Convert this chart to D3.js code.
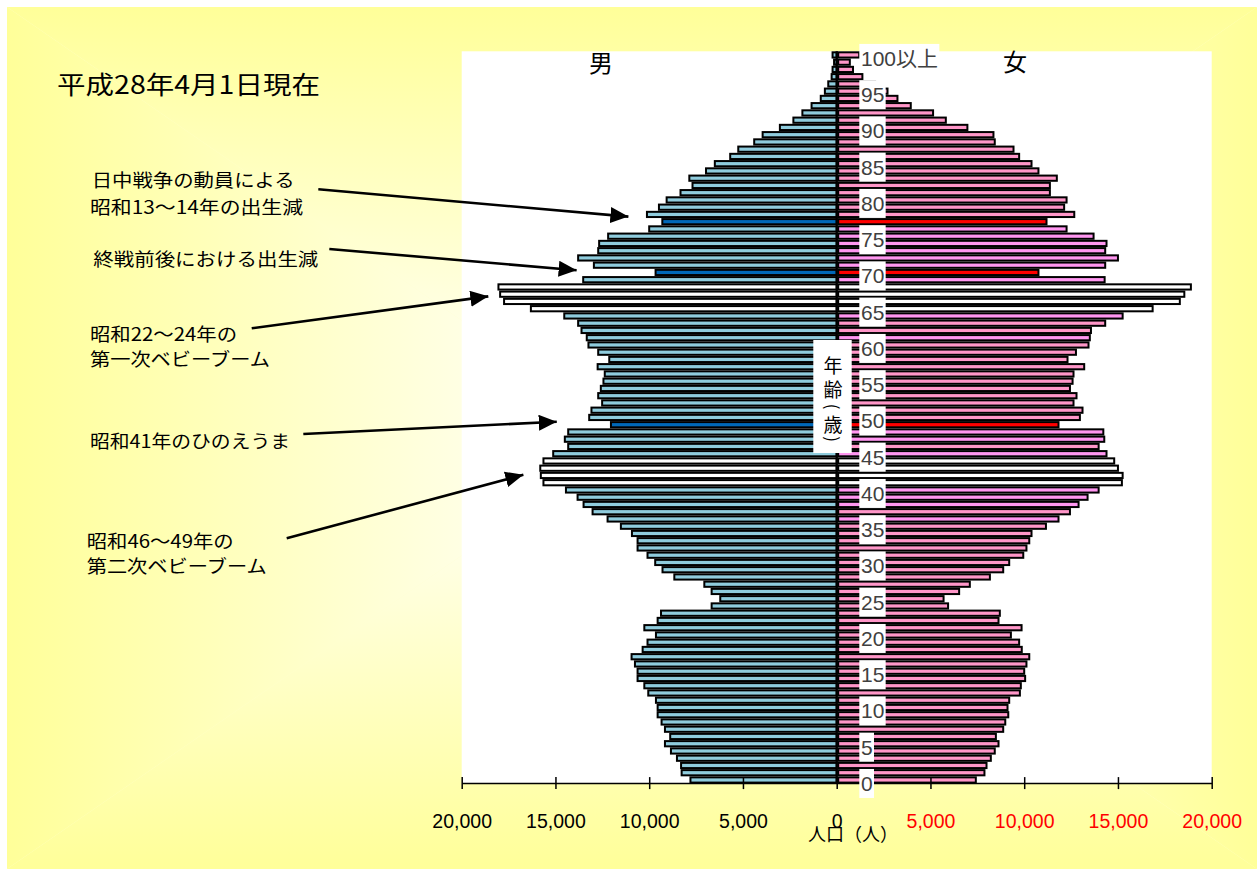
<!DOCTYPE html>
<html><head><meta charset="utf-8">
<script src="https://cdn.jsdelivr.net/npm/d3@7"></script>
<style>body{margin:0;background:#fff;} svg{display:block}</style>
</head><body>
<svg id="chart" width="1257" height="872"></svg>
<script>
// ---------- data ----------
const ages = d3.range(0, 101);
const maleValues = [
 7800, 8270, 8300, 8520, 8840, 9160, 8880, 9160, 9340, 9550,
 9550, 9640,10050,10260,10620,10620,10760,10940,10350,10090,
 9640,10260, 9550, 9370, 6670, 6210, 6670, 7060, 8660, 9290,
 9680,10090,10620,10620,10920,11510,12220,13020,13500,13820,
14440,15640,15780,15810,15640,15120,14320,14500,14320,12040,
13200,13080,12510,12720,12580,12440,12370,12750,12130,12720,
13240,13330,13610,13790,14530,16310,17740,17950,18040,13520,
 9660,12950,13790,12720,12670,12190,10000, 9300,10120, 9480,
 9070, 8330, 7690, 7860, 6970, 6500, 5680, 5250, 4400, 3950,
 3030, 2310, 1830, 1340,  850,  630,  450,  270,  220,  140,
  220];
const femaleValues = [
 7420, 7880, 7990, 8220, 8430, 8630, 8490, 8880, 8990, 9150,
 9110, 9200, 9770, 9820,10050,10000,10120,10270, 9870, 9730,
 9290, 9860, 8630, 8700, 5940, 5700, 6530, 7100, 8170, 8880,
 9200, 9950,10120,10270,10390,11160,11830,12440,12900,13380,
13970,15210,15250,15000,14800,14390,13970,14270,14220,11830,
12970,13110,12630,12790,12440,12580,12630,13200,12310,12760,
13430,13500,13560,14320,15250,16850,18300,18540,18890,14290,
10760,14320,15000,14320,14390,13700,12260,11190,12670,12130,
12260,11370,11370,11740,10760,10390, 9730, 9430, 8430, 8360,
 6970, 5820, 5140, 3950, 3240, 2710, 2050, 1370,  870,  700,
 1200];
const dipAges  = [49, 70, 77];                 // birth dips (highlighted)
const boomAges = [41, 42, 43, 44, 65, 66, 67, 68]; // baby booms (white)
const ageTicks = [0,5,10,15,20,25,30,35,40,45,50,55,60,65,70,75,80,85,90,95,100];
const ageTickLabels = ["0","5","10","15","20","25","30","35","40","45","50","55","60","65","70","75","80","85","90","95","100以上"];
const axisTickValues = [-20000,-15000,-10000,-5000,0,5000,10000,15000,20000];
const titleText = "平成28年4月1日現在";
const annotationLines = [
  ["日中戦争の動員による","昭和13～14年の出生減"],
  ["終戦前後における出生減"],
  ["昭和22～24年の","第一次ベビーブーム"],
  ["昭和41年のひのえうま"],
  ["昭和46～49年の","第二次ベビーブーム"]
];
// arrow tips in data space: [age, male population]
const annotationTargets = [[77.7, 11110],[70.3, 13870],[66.7, 18580],[49.4, 14930],[42.1, 16710]];

// ---------- layout / style ----------
const W = 1257, H = 872;
const plot = {x0: 461.7, x1: 1211.7, y0: 51.3, y1: 783.6};
const cx0 = (plot.x0 + plot.x1) / 2;
const JP = "'Noto Sans CJK JP','Noto Sans',sans-serif";
const col = {yellow:"#FFFF99", male:"#8FCCDD", maleDip:"#0068B8", female:"#FF96C8", femaleAlt:"#FF96F0", femaleDip:"#FF0000", boom:"#FFFFFF"};
const femaleAltStyleAges = [36,38,39,40,45,47,48,61,64,69,71,72,73,74,75,76];

const svg = d3.select("#chart");
const defs = svg.append("defs");

// background panel with rectangular (path) gradient: yellow edges -> white centre
const P = {x0:7, y0:7, x1:1257, y1:869}, C = {x:632, y:438};
svg.append("rect").attr("x",P.x0).attr("y",P.y0).attr("width",P.x1-P.x0).attr("height",P.y1-P.y0).attr("fill","#FFFFD0");
const tris = [
  {id:"gT", pts:[[P.x0,P.y0],[P.x1,P.y0],[C.x,C.y]], g:[0,P.y0,0,C.y]},
  {id:"gB", pts:[[P.x0,P.y1],[P.x1,P.y1],[C.x,C.y]], g:[0,P.y1,0,C.y]},
  {id:"gL", pts:[[P.x0,P.y0],[P.x0,P.y1],[C.x,C.y]], g:[P.x0,0,C.x,0]},
  {id:"gR", pts:[[P.x1,P.y0],[P.x1,P.y1],[C.x,C.y]], g:[P.x1,0,C.x,0]}
];
tris.forEach(t => {
  const lg = defs.append("linearGradient").attr("id",t.id).attr("gradientUnits","userSpaceOnUse")
    .attr("x1",t.g[0]).attr("y1",t.g[1]).attr("x2",t.g[2]).attr("y2",t.g[3]);
  lg.append("stop").attr("offset","0").attr("stop-color",col.yellow);
  lg.append("stop").attr("offset","1").attr("stop-color","#FFFFFF");
  svg.append("polygon").attr("points", t.pts.map(p=>p.join(",")).join(" ")).attr("fill",`url(#${t.id})`);
});

// plot area
svg.append("rect").attr("x",plot.x0).attr("y",plot.y0).attr("width",plot.x1-plot.x0).attr("height",plot.y1-plot.y0).attr("fill","#fff");

// scales
const y = d3.scaleBand().domain(ages.slice().reverse()).range([plot.y0, plot.y1]).paddingInner(0.28).paddingOuter(0.14);
const yc = a => y(a) + y.bandwidth()/2;
const yAge = a => { const lo = Math.floor(a); return yc(lo) + (yc(Math.min(lo+1,100)) - yc(lo)) * (a - lo); };
const xM = d3.scaleLinear().domain([0, 20000]).range([cx0, plot.x0]);
const xF = d3.scaleLinear().domain([0, 20000]).range([cx0, plot.x1]);
const xAxisScale = d3.scaleLinear().domain([-20000, 20000]).range([plot.x0, plot.x1]);

// bars
const gBars = svg.append("g");
gBars.selectAll("rect.m").data(ages).join("rect").attr("class","m")
  .attr("x", a => xM(maleValues[a])).attr("y", a => y(a))
  .attr("width", a => cx0 - xM(maleValues[a])).attr("height", y.bandwidth())
  .attr("fill", a => boomAges.includes(a) ? col.boom : dipAges.includes(a) ? col.maleDip : col.male)
  .attr("stroke","#000").attr("stroke-width",2);
gBars.selectAll("rect.f").data(ages).join("rect").attr("class","f")
  .attr("x", cx0 + 1.5).attr("y", a => y(a))
  .attr("width", a => xF(femaleValues[a]) - cx0 - 1.5).attr("height", y.bandwidth())
  .attr("fill", a => boomAges.includes(a) ? col.boom : dipAges.includes(a) ? col.femaleDip
        : femaleAltStyleAges.includes(a) ? col.femaleAlt : col.female)
  .attr("stroke","#000").attr("stroke-width",2);

// centre line
svg.append("line").attr("x1",cx0).attr("x2",cx0).attr("y1",plot.y0).attr("y2",plot.y1).attr("stroke","#000").attr("stroke-width",2.2);

// x axis
const ax = svg.append("g").attr("transform",`translate(0,${plot.y1 - 0.5})`)
  .call(d3.axisBottom(xAxisScale).tickValues(axisTickValues).tickSizeInner(6).tickSizeOuter(0)
    .tickFormat(d => d3.format(",")(Math.abs(d))));
ax.select(".domain").attr("stroke","#000").attr("stroke-width",1.5);
ax.selectAll(".tick line").attr("y1",-6).attr("y2",6).attr("stroke","#000").attr("stroke-width",1.5);
ax.selectAll(".tick text").attr("y",38).attr("dy","0.35em")
  .attr("font-family","'Liberation Sans',Arial,sans-serif").attr("font-size",19.5)
  .attr("fill", d => d > 0 ? "#FF0000" : "#000");

// age labels with white boxes
const gAge = svg.append("g");
ageTicks.forEach((a, i) => {
  const t = gAge.append("text").attr("x", 861).attr("y", yc(a) + 3.5).attr("dominant-baseline","central")
    .attr("font-family","'Liberation Sans',Arial,'Noto Sans CJK JP',sans-serif").attr("font-size",21)
    .attr("fill","#404040").text(ageTickLabels[i]);
  const bb = t.node().getBBox();
  gAge.insert("rect","text").attr("x",859.3).attr("y",yc(a)+3.5-14.5).attr("width",bb.width+3).attr("height",29).attr("fill","#fff");
});
gAge.selectAll("text").raise();

// vertical axis title 年齢（歳）
svg.append("rect").attr("x",813.3).attr("y",340).attr("width",38.4).attr("height",113).attr("fill","#fff");
const vt = [["年",364,0],["齢",388,0],["(",406.7,90],["歳",423,0],[")",439,90]];
vt.forEach(([ch, yy, r]) => {
  svg.append("text").attr("x",833).attr("y",yy).attr("text-anchor","middle").attr("dominant-baseline","central")
    .attr("transform", r ? `rotate(${r},833,${yy})` : null)
    .attr("font-family",JP).attr("font-size",r ? 17 : 19).attr("fill","#000").text(ch);
});

// sex labels
svg.append("text").attr("x",601).attr("y",61).attr("text-anchor","middle").attr("dominant-baseline","central")
  .attr("font-family",JP).attr("font-size",24).text("男");
svg.append("text").attr("x",1015).attr("y",60).attr("text-anchor","middle").attr("dominant-baseline","central")
  .attr("font-family",JP).attr("font-size",24).text("女");

// x axis title
svg.append("text").attr("x",853).attr("y",833).attr("text-anchor","middle").attr("dominant-baseline","central")
  .attr("font-family",JP).attr("font-size",18).attr("textLength",90).attr("lengthAdjust","spacingAndGlyphs").text("人口（人）");

// title
svg.append("text").attr("x",57).attr("y",82.5).attr("dominant-baseline","central")
  .attr("font-family",JP).attr("font-size",25).attr("textLength",263).attr("lengthAdjust","spacingAndGlyphs").text(titleText);

// annotations
const annLayout = [
  {lines:[[91.7,179,203],[90,205.5,213]], from:[318.3,189.3]},
  {lines:[[93.3,258,225]], from:[329.3,249]},
  {lines:[[90,333,147],[90,358,180]], from:[251.7,328.3]},
  {lines:[[90,440,200]], from:[303.3,434]},
  {lines:[[86.7,540,147],[86.7,565,180]], from:[286.7,538.3]}
];
defs.append("marker").attr("id","arrow").attr("markerUnits","userSpaceOnUse")
  .attr("markerWidth",20).attr("markerHeight",18).attr("refX",18).attr("refY",8).attr("orient","auto")
  .append("path").attr("d","M0,0 L18,8 L0,16 Z").attr("fill","#000");
annotationLines.forEach((lines, i) => {
  const L = annLayout[i];
  lines.forEach((s, j) => {
    const [x, yy, w] = L.lines[j];
    svg.append("text").attr("x",x).attr("y",yy).attr("dominant-baseline","central")
      .attr("font-family",JP).attr("font-size",18).attr("textLength",w).attr("lengthAdjust","spacingAndGlyphs").text(s);
  });
  const [ta, tv] = annotationTargets[i];
  svg.append("line").attr("x1",L.from[0]).attr("y1",L.from[1])
    .attr("x2",xM(tv)).attr("y2",yAge(ta))
    .attr("stroke","#000").attr("stroke-width",2.6).attr("marker-end","url(#arrow)");
});
</script>
</body></html>
